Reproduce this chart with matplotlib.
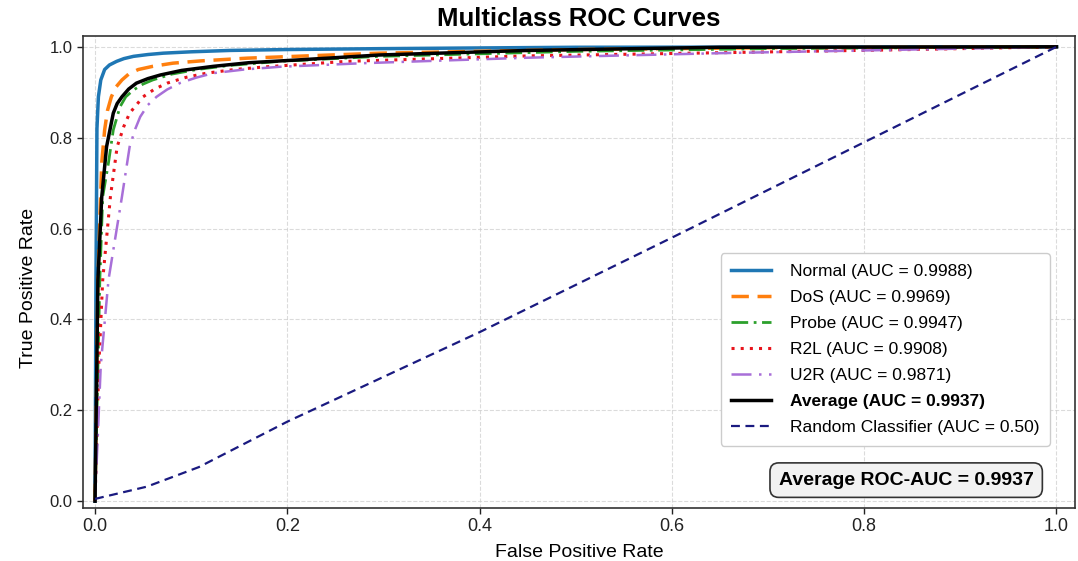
import numpy as np
import matplotlib.pyplot as plt

# ROC points (fpr, tpr)
normal_fpr = [0, 0.001, 0.002, 0.0035, 0.006, 0.010, 0.015, 0.0225, 0.03, 0.04, 0.055, 0.071, 0.1, 0.14, 0.2, 0.3, 0.5, 1.0]
normal_tpr = [0, 0.487, 0.82, 0.89, 0.927, 0.95, 0.96, 0.968, 0.974, 0.979, 0.983, 0.986, 0.989, 0.992, 0.994, 0.996, 0.999, 1.0]

dos_fpr = [0, 0.003, 0.007, 0.010, 0.013, 0.017, 0.022, 0.028, 0.035, 0.045, 0.06, 0.081, 0.11, 0.158, 0.22, 0.296, 0.5, 0.7, 1.0]
dos_tpr = [0, 0.487, 0.745, 0.817, 0.86, 0.89, 0.912, 0.927, 0.94, 0.95, 0.957, 0.964, 0.969, 0.975, 0.98, 0.986, 0.994, 0.998, 1.0]

probe_fpr = [0, 0.005, 0.008, 0.014, 0.019, 0.026, 0.032, 0.04, 0.05, 0.06, 0.08, 0.106, 0.14, 0.192, 0.296, 0.5, 0.7, 1.0]
probe_tpr = [0, 0.487, 0.67, 0.745, 0.817, 0.868, 0.89, 0.905, 0.918, 0.927, 0.94, 0.95, 0.959, 0.968, 0.979, 0.99, 0.996, 1.0]

r2l_fpr = [0, 0.004, 0.008, 0.016, 0.023, 0.03, 0.036, 0.05, 0.062, 0.075, 0.095, 0.116, 0.145, 0.178, 0.262, 0.45, 0.65, 0.85, 1.0]
r2l_tpr = [0, 0.3, 0.487, 0.67, 0.78, 0.825, 0.854, 0.89, 0.907, 0.92, 0.933, 0.942, 0.95, 0.956, 0.968, 0.98, 0.987, 0.994, 1.0]

u2r_fpr = [0, 0.006, 0.014, 0.028, 0.036, 0.042, 0.047, 0.055, 0.064, 0.075, 0.088, 0.105, 0.123, 0.155, 0.192, 0.28, 0.45, 0.65, 0.85, 1.0]
u2r_tpr = [0, 0.3, 0.487, 0.67, 0.78, 0.82, 0.846, 0.872, 0.89, 0.906, 0.92, 0.932, 0.942, 0.95, 0.956, 0.964, 0.976, 0.986, 0.994, 1.0]

avg_fpr = [0, 0.003, 0.007, 0.012, 0.019, 0.023, 0.028, 0.035, 0.043, 0.055, 0.068, 0.09, 0.123, 0.16, 0.21, 0.296, 0.45, 0.65, 1.0]
avg_tpr = [0, 0.487, 0.67, 0.78, 0.854, 0.875, 0.89, 0.907, 0.92, 0.93, 0.938, 0.948, 0.957, 0.965, 0.971, 0.982, 0.992, 0.999, 1.0]

rand_fpr = [0, 0.054, 0.108, 0.2, 0.4, 0.6, 0.8, 1.0]
rand_tpr = [0.005, 0.032, 0.075, 0.175, 0.372, 0.58, 0.79, 1.0]

labels = ['Normal (AUC = 0.9988)', 'DoS (AUC = 0.9969)', 'Probe (AUC = 0.9947)',
          'R2L (AUC = 0.9908)', 'U2R (AUC = 0.9871)']
avg_label = 'Average (AUC = 0.9937)'
rand_label = 'Random Classifier (AUC = 0.50)'
avg_text = 'Average ROC-AUC = 0.9937'

plt.rcParams['font.family'] = ['Liberation Sans', 'DejaVu Sans']

fig = plt.figure(figsize=(10.78, 5.61), dpi=100)
ax = fig.add_axes([0.077, 0.0945, 0.92, 0.8415])

curves = [(normal_fpr, normal_tpr), (dos_fpr, dos_tpr), (probe_fpr, probe_tpr),
          (r2l_fpr, r2l_tpr), (u2r_fpr, u2r_tpr)]
colors = ['#1f77b4', '#ff7f0e', '#2ca02c', '#e8141c', '#a86fd8']
styles = ['-', (0, (5, 2.5)), (0, (6, 2, 1, 2)), (0, (1, 2)), (0, (8, 3, 1, 3))]
widths = [2.5, 2.5, 2.0, 2.2, 1.8]

for (fx, ty), lab, c, ls, lw in zip(curves, labels, colors, styles, widths):
    ax.plot(fx, ty, color=c, linestyle=ls, lw=lw, label=lab, solid_joinstyle='round')

ax.plot(avg_fpr, avg_tpr, color='black', lw=2.5, label=avg_label, solid_joinstyle='round')
ax.plot(rand_fpr, rand_tpr, color='#1a1a80', linestyle=(0, (4, 2.5)), lw=1.6, label=rand_label)

ax.set_xlim(-0.0125, 1.019)
ax.set_ylim(-0.015, 1.024)
ax.set_xticks(np.arange(0, 1.01, 0.2))
ax.set_yticks(np.arange(0, 1.01, 0.2))
ax.tick_params(labelsize=12, width=1.0, length=4, colors='#222222')
ax.tick_params(axis='x', labelsize=13)
ax.grid(True, linestyle='--', color='#cccccc', alpha=0.7, lw=0.8)
for sp in ax.spines.values():
    sp.set_color('#333333')
    sp.set_linewidth(1.2)

ax.set_title('Multiclass ROC Curves', fontsize=18.5, fontweight='bold', pad=7)
ax.set_xlabel('False Positive Rate', fontsize=14, labelpad=6)
ax.set_ylabel('True Positive Rate', fontsize=14)
ax.yaxis.set_label_coords(-0.046, 0.466)

leg = ax.legend(loc='upper right', bbox_to_anchor=(0.975, 0.54), borderaxespad=0,
                fontsize=12.5, handlelength=2.3, handletextpad=1.1, labelspacing=0.63,
                borderpad=0.6, framealpha=1, edgecolor='#cccccc', fancybox=True)
for t in leg.get_texts():
    if t.get_text().startswith('Average'):
        t.set_fontweight('bold')

ax.text(0.83, 0.059, avg_text, transform=ax.transAxes, ha='center', va='center',
        fontsize=14, fontweight='bold',
        bbox=dict(boxstyle='round,pad=0.45', facecolor='#f2f2f2', edgecolor='#333333', lw=1.2))

fig.savefig('out.png', dpi=100)
